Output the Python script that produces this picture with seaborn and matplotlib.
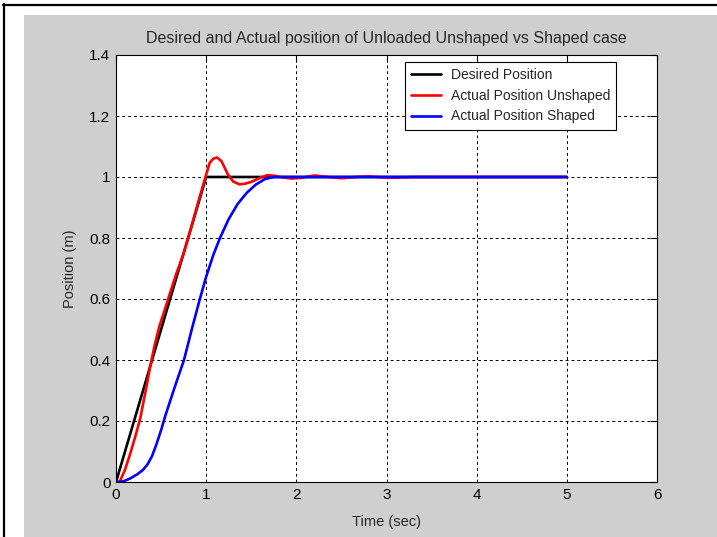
import matplotlib
matplotlib.use("Agg")
import matplotlib.pyplot as plt
import seaborn as sns
import pandas as pd
from matplotlib.patches import Rectangle
from matplotlib.lines import Line2D

# ---- data ----
desired_t = [0, 1.0, 5.0]
desired_v = [0, 1.0, 1.0]

unshaped_t = [0, 0.04, 0.1, 0.16, 0.22, 0.27, 0.33, 0.38, 0.43, 0.48, 0.53, 0.6, 0.67, 0.75,
              0.82, 0.9, 0.99, 1.04, 1.08, 1.12, 1.17, 1.24, 1.3, 1.37, 1.43, 1.5, 1.56,
              1.62, 1.68, 1.76, 1.86, 1.95, 2.05, 2.2, 2.35, 2.5, 2.65, 2.8, 2.95, 3.1,
              3.3, 3.6, 5.0]
unshaped_v = [0, 0.0, 0.04, 0.095, 0.155, 0.21, 0.30, 0.38, 0.45, 0.51, 0.555, 0.62, 0.684,
              0.749, 0.82, 0.905, 0.998, 1.047, 1.06, 1.064, 1.052, 1.009, 0.985, 0.976,
              0.978, 0.984, 0.992, 1.0, 1.006, 1.004, 0.998, 0.995, 0.997, 1.005, 1.0,
              0.996, 1.0, 1.002, 0.999, 0.998, 1.0, 1.0, 1.0]

shaped_t = [0, 0.08, 0.16, 0.24, 0.3, 0.35, 0.4, 0.45, 0.5, 0.55, 0.65, 0.754, 0.84, 0.93,
            1.0, 1.08, 1.153, 1.25, 1.35, 1.45, 1.55, 1.65, 1.75, 5.0]
shaped_v = [0, 0.002, 0.012, 0.026, 0.04, 0.058, 0.085, 0.125, 0.17, 0.22, 0.31, 0.4, 0.5,
            0.6, 0.673, 0.745, 0.8, 0.862, 0.912, 0.948, 0.975, 0.993, 1.0, 1.0]

labels = ["Desired Position", "Actual Position Unshaped", "Actual Position Shaped"]
colors = ["#000000", "#ff0000", "#0000ff"]
xticks = [0, 1, 2, 3, 4, 5, 6]
yticks = [0, 0.2, 0.4, 0.6, 0.8, 1.0, 1.2, 1.4]
ytick_labels = ["0", "0.2", "0.4", "0.6", "0.8", "1", "1.2", "1.4"]
title = "Desired and Actual position of Unloaded Unshaped vs Shaped case"

sns.set_style("white")
plt.rcParams['font.family'] = ['Liberation Sans', 'DejaVu Sans']

W, H = 717, 537
fig = plt.figure(figsize=(W / 100, H / 100), dpi=100, facecolor="white")

# gray figure panel and outer border
fig.patches.append(Rectangle((24 / W, 0), 1 - 24 / W, 1 - 15 / H, transform=fig.transFigure,
                             facecolor="#cfcfcf", edgecolor="none", zorder=-10))
fig.lines.append(Line2D([3 / W, 1], [1 - 4.5 / H, 1 - 4.5 / H], transform=fig.transFigure,
                        color="black", lw=1.6, zorder=-5))
fig.lines.append(Line2D([4 / W, 4 / W], [0, 1 - 3.5 / H], transform=fig.transFigure,
                        color="black", lw=1.6, zorder=-5))

ax = fig.add_axes([116 / W, 1 - 482 / H, (657 - 116) / W, (482 - 55) / H])
ax.set_facecolor("white")

series = [(desired_t, desired_v), (unshaped_t, unshaped_v), (shaped_t, shaped_v)]
for (t, v), lab, c in zip(series, labels, colors):
    df = pd.DataFrame({"t": t, "v": v})
    sns.lineplot(data=df, x="t", y="v", ax=ax, color=c, lw=1.9, label=lab,
                 estimator=None, sort=False)

ax.set_xlim(0, 6)
ax.set_ylim(0, 1.4)
ax.set_xticks(xticks)
ax.set_xticklabels([str(x) for x in xticks])
ax.set_yticks(yticks)
ax.set_yticklabels(ytick_labels)
ax.grid(True, color="black", linestyle=(0, (3, 3)), lw=0.7)
ax.tick_params(direction="in", length=5, width=0.8, top=True, right=True,
               labelsize=11, colors="black", pad=4)
for s in ax.spines.values():
    s.set_color("black")
    s.set_linewidth(0.8)
    s.set_visible(True)

ax.set_xlabel("Time (sec)", fontsize=10.5, labelpad=10)
ax.set_ylabel("Position (m)", fontsize=10.5, labelpad=9)
ax.set_title(title, fontsize=11.5, pad=9)

leg = ax.legend(loc="upper right", bbox_to_anchor=(0.925, 0.984), fontsize=10,
                frameon=True, fancybox=False, framealpha=1, edgecolor="black",
                borderpad=0.45, labelspacing=0.48, handlelength=2.15, handletextpad=0.7,
                borderaxespad=0)
leg.get_frame().set_linewidth(0.8)

fig.savefig("out.png", dpi=100, facecolor="white")
